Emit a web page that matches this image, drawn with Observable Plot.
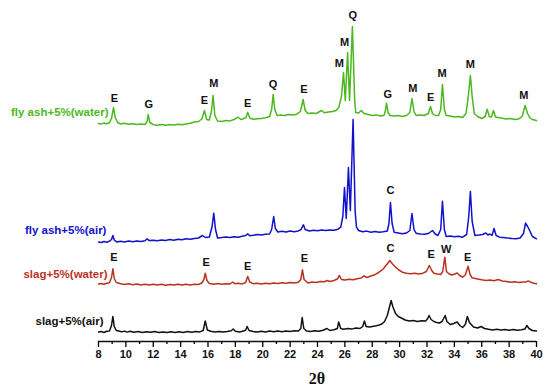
<!DOCTYPE html>
<html>
<head>
<meta charset="utf-8">
<script src="https://cdn.jsdelivr.net/npm/d3@7"></script>
<script src="https://cdn.jsdelivr.net/npm/@observablehq/plot@0.6"></script>
<style>
  html, body { margin: 0; padding: 0; background: #fff; }
  #chart { width: 550px; height: 391px; }
</style>
</head>
<body>
<div id="chart"></div>
<script>
// 2θ (degrees) vs stacked intensity (a.u., offsets included)
const slagAir = [[8.0,9.5],[8.2,10],[8.4,9],[8.6,10.2],[8.8,10.5],[8.95,16],[9.05,25],[9.15,15],[9.3,11],[9.5,10.5],[9.7,9.6],[9.9,10.4],[10.1,9.4],[10.3,10.2],[10.6,9.3],[10.9,9.9],[11.2,9.1],[11.5,9.8],[11.8,9.2],[12.1,9.9],[12.4,9],[12.7,9.6],[13.0,8.9],[13.3,9.7],[13.6,9],[13.9,9.8],[14.2,9.1],[14.5,9.9],[14.8,9.2],[15.1,10],[15.4,9.6],[15.65,11],[15.8,20.5],[15.95,11.5],[16.2,10.2],[16.5,9.5],[16.8,10.1],[17.1,9.4],[17.4,10],[17.7,10.8],[17.84,12.5],[18.0,10.3],[18.3,9.6],[18.6,10.4],[18.75,11.5],[18.86,15],[19.0,11],[19.3,10],[19.6,9.4],[19.9,10.2],[20.2,9.6],[20.5,10.4],[20.8,9.7],[21.1,10.5],[21.4,9.8],[21.7,10.6],[22.0,10],[22.3,10.8],[22.6,10.5],[22.78,13],[22.88,24],[23.0,13],[23.2,10.5],[23.5,10],[23.8,10.8],[24.1,10.2],[24.4,11.2],[24.7,13],[24.9,11],[25.2,11.8],[25.45,13],[25.55,19.5],[25.7,13],[25.9,12.3],[26.2,13],[26.5,12.4],[26.8,13.5],[27.1,13],[27.3,15],[27.43,20.5],[27.55,15],[27.8,14.5],[28.0,15],[28.3,15.8],[28.5,16.5],[28.7,17.5],[28.9,20],[29.1,26],[29.25,34],[29.38,41],[29.5,35],[29.7,28],[29.9,25],[30.2,23],[30.4,21.5],[30.7,20.5],[31.0,21],[31.3,20],[31.6,20.8],[31.9,20.4],[32.05,23],[32.15,26],[32.3,22],[32.5,20],[32.7,19],[32.9,18.5],[33.1,20],[33.25,24],[33.33,26],[33.45,20],[33.7,17],[33.95,18],[34.2,19.5],[34.4,16],[34.6,14],[34.8,17],[34.95,25],[35.1,19],[35.4,14.5],[35.7,13.5],[35.95,15],[36.2,13],[36.5,12.2],[36.8,11.5],[37.1,12.2],[37.4,11.4],[37.7,12],[38.0,11.3],[38.3,11.9],[38.6,11.2],[38.9,11.8],[39.15,12.5],[39.3,16],[39.45,13],[39.7,11],[40.0,10.5]];

const slagWater = [[8.0,57.5],[8.2,58],[8.4,57.2],[8.6,58.3],[8.8,58.8],[8.95,64],[9.05,72.7],[9.15,63],[9.3,59],[9.5,58.3],[9.7,57.4],[9.9,57],[10.2,57.8],[10.5,56.8],[10.8,57.5],[11.1,56.6],[11.4,57.3],[11.7,56.4],[12.0,57.2],[12.3,56.5],[12.6,57.3],[12.9,56.3],[13.2,57],[13.5,56.4],[13.8,57.2],[14.1,56.5],[14.4,57.2],[14.7,56.6],[15.0,57.3],[15.3,57],[15.55,58.5],[15.7,62],[15.8,68.3],[15.92,61],[16.1,58],[16.4,57.3],[16.7,58],[17.0,57.2],[17.3,57.8],[17.6,57.5],[17.8,59.5],[17.95,57.8],[18.2,58.2],[18.5,57.6],[18.75,59],[18.9,65],[19.05,59.5],[19.3,57.8],[19.6,58.2],[19.9,57.5],[20.2,58.3],[20.5,57.7],[20.8,58.5],[21.1,57.9],[21.4,58.8],[21.7,58.2],[22.0,58.9],[22.3,58.4],[22.6,59.2],[22.78,62],[22.9,71.7],[23.02,62],[23.3,58.5],[23.6,59.5],[23.9,59],[24.2,60],[24.5,59.8],[24.7,61],[24.9,60],[25.2,61],[25.45,62.5],[25.6,66],[25.75,62],[26.0,61.5],[26.3,62.3],[26.6,61.8],[26.9,62.8],[27.2,63.5],[27.4,65.7],[27.6,64],[27.8,65],[28.0,66],[28.2,66.8],[28.4,68.5],[28.6,70.3],[28.8,72.5],[29.0,76],[29.15,78.5],[29.28,81],[29.45,78],[29.7,74.3],[29.95,71.5],[30.2,69.3],[30.5,68.3],[30.8,67.7],[31.1,68.2],[31.4,67.5],[31.7,68.3],[31.95,70],[32.17,76],[32.35,71],[32.5,68.3],[32.75,67.5],[33.0,67],[33.15,70],[33.3,84.3],[33.42,70],[33.6,67.7],[33.8,66.5],[34.0,67.2],[34.2,68.5],[34.4,66],[34.6,64.3],[34.8,66.5],[35.0,75.3],[35.15,67],[35.3,63.7],[35.6,62.8],[36.0,61.7],[36.3,61],[36.6,61.6],[36.9,60.8],[37.2,62],[37.5,60.5],[37.8,60],[38.1,59.3],[38.4,59.8],[38.7,59],[39.0,59.6],[39.2,59.4],[39.4,60.6],[39.6,59.2],[39.8,58.3],[40.0,57.7]];

const flyAshAir = [[8.0,99.5],[8.2,99],[8.4,100],[8.6,99.3],[8.8,100.2],[8.95,102],[9.05,106],[9.15,101.5],[9.35,99.4],[9.6,100.2],[9.9,99.6],[10.2,100.4],[10.5,99.8],[10.8,100.6],[11.1,100],[11.4,100.8],[11.55,102.7],[11.7,100.9],[12.0,101.2],[12.3,100.7],[12.6,101.6],[12.9,101],[13.2,102],[13.5,101.3],[13.8,102.3],[14.1,101.7],[14.4,102.7],[14.7,102.2],[15.0,103],[15.3,103.5],[15.6,106],[15.8,104],[16.1,104.5],[16.3,115],[16.42,128.3],[16.55,112],[16.7,103.5],[17.0,104],[17.3,104.6],[17.6,104.1],[17.9,104.8],[18.2,104.3],[18.5,105.2],[18.75,106],[18.9,107.7],[19.05,105.8],[19.3,106.2],[19.6,107],[19.9,106.5],[20.2,107.3],[20.5,107.5],[20.65,112],[20.8,125],[20.92,113],[21.1,109.5],[21.4,110.2],[21.7,109.6],[22.0,110.4],[22.3,109.8],[22.6,110.6],[22.8,112],[22.97,116.7],[23.1,112],[23.4,110.5],[23.7,111.2],[24.0,110.7],[24.3,111.5],[24.6,110.9],[24.9,111.6],[25.2,111.2],[25.5,112.3],[25.7,114.3],[25.85,125],[25.97,154],[26.1,123],[26.26,174],[26.4,131],[26.6,222],[26.75,130],[26.85,114.3],[27.0,111],[27.3,109.8],[27.6,110.4],[27.9,109.3],[28.2,110],[28.5,109.2],[28.8,109.8],[29.1,110.5],[29.22,118],[29.33,139],[29.45,118],[29.6,109.3],[29.9,108.6],[30.2,107.7],[30.5,108.5],[30.75,111],[30.9,128],[31.05,112],[31.2,108.3],[31.5,107.6],[31.8,107.2],[32.1,108],[32.4,111],[32.6,107.5],[32.8,106],[33.0,112],[33.13,140.3],[33.27,112],[33.4,105],[33.7,105.5],[34.0,104.8],[34.3,105.3],[34.6,104.3],[34.9,107],[35.05,125],[35.17,150],[35.3,120],[35.5,106],[35.8,106.5],[36.05,107],[36.3,108.5],[36.45,106.5],[36.6,107.5],[36.75,106],[36.9,113],[37.05,106],[37.3,104.3],[37.6,104],[37.9,103.4],[38.2,103],[38.5,102.7],[38.8,103.5],[39.05,108],[39.2,118.4],[39.35,115],[39.5,111],[39.7,105],[40.0,102.7]];

const flyAshWater = [[8.0,218],[8.2,217.6],[8.4,218.4],[8.6,217.8],[8.8,218.8],[8.95,223],[9.1,234],[9.22,224],[9.4,219],[9.6,217.6],[9.9,218.2],[10.2,217.2],[10.5,217.8],[10.8,216.9],[11.1,217.5],[11.4,217],[11.55,220],[11.63,227],[11.75,219],[12.0,216.8],[12.3,216.2],[12.6,216.9],[12.9,216.3],[13.2,217],[13.5,216.4],[13.8,217.2],[14.1,216.8],[14.4,217.6],[14.7,218.3],[15.0,219.5],[15.3,220],[15.55,222.5],[15.74,231],[15.9,222],[16.1,221.5],[16.25,230],[16.37,246],[16.5,226],[16.7,220.5],[17.0,220],[17.3,221],[17.6,220.6],[17.9,222],[18.2,224.3],[18.4,222],[18.6,222.8],[18.78,224],[18.9,229.3],[19.05,223.5],[19.3,222.2],[19.6,222.8],[19.9,223],[20.2,223.8],[20.5,225],[20.65,232],[20.76,247],[20.88,232],[21.05,226],[21.3,226.5],[21.6,226],[21.9,227],[22.2,226.6],[22.5,227.3],[22.75,230],[22.95,242],[23.1,231],[23.3,228],[23.6,228.5],[23.9,228],[24.1,229.5],[24.3,231],[24.5,228.7],[24.8,229.4],[25.1,230],[25.35,231],[25.55,234],[25.75,245],[25.9,269],[26.03,241],[26.2,289],[26.34,241],[26.55,315],[26.72,240],[26.8,229],[27.0,228.5],[27.2,231],[27.4,228],[27.7,227],[28.0,226],[28.3,226.6],[28.6,225.5],[28.85,226],[28.95,230],[29.04,238.3],[29.15,229],[29.3,226],[29.6,225.5],[29.9,226],[30.2,225],[30.5,226],[30.75,229],[30.9,243],[31.05,230],[31.2,226],[31.5,226.6],[31.8,226],[32.1,228],[32.25,235],[32.4,228],[32.6,226],[32.85,226],[33.0,232],[33.13,257],[33.27,232],[33.4,226],[33.7,225.5],[34.0,224.6],[34.3,225],[34.6,224],[34.85,228],[35.0,243],[35.17,266],[35.3,245],[35.45,228],[35.7,225],[36.0,223],[36.25,225],[36.4,232.3],[36.55,225],[36.7,224.5],[36.86,231],[37.0,224.5],[37.2,224],[37.5,223.2],[37.8,222.6],[38.1,223],[38.4,222],[38.7,222.6],[38.95,225],[39.17,236],[39.35,228],[39.5,224],[39.7,222],[40.0,221]];

const seriesNames = ["slag+5%(air)", "slag+5%(water)", "fly ash+5%(air)", "fly ash+5%(water)"];
const seriesColors = ["#111111", "#b8331f", "#1111cc", "#4cb81e"];
const seriesData = [slagAir, slagWater, flyAshAir, flyAshWater];
const seriesLabelX = [8.37, 8.66, 8.58, 8.73];
const seriesLabelY = [20, 67, 111, 229];

// phase labels
const peakText = ["E","G","E","M","E","Q","E","M","M","Q","G","M","E","M","M","M",
                  "C",
                  "E","E","E","E","C","E","W","E"];
const peakX = [9.17,11.68,15.74,16.42,18.9,20.76,23.0,25.6,25.97,26.57,29.13,30.96,32.27,33.1,35.17,39.07,
               29.33,
               9.12,15.87,18.9,23.05,29.33,32.3,33.4,34.98];
const peakY = [242.7,236.7,241,258.3,237.7,256.7,252,277.7,299.3,326,247,253.3,244.3,268.3,276.7,246,
               151,
               83.7,78.7,75.3,82.7,92.7,87,92,84.3];

const majorTicks = d3.range(8, 41, 2);
const minorTicks = d3.range(9, 40, 2);
const xTitle = "2θ";

const lines = seriesData.flatMap((s, i) => s.map(([x, y]) => ({x, y, k: seriesNames[i]})));
const seriesLabels = seriesNames.map((name, i) => ({name, x: seriesLabelX[i], y: seriesLabelY[i], c: seriesColors[i]}));
const peaks = peakText.map((t, i) => ({t, x: peakX[i], y: peakY[i]}));

const chart = Plot.plot({
  width: 550,
  height: 391,
  marginLeft: 98,
  marginRight: 14,
  marginTop: 0,
  marginBottom: 50,
  style: {fontFamily: "'Liberation Sans', Arial, sans-serif", background: "#fff", overflow: "visible"},
  x: {domain: [8, 40]},
  y: {domain: [0, 341], axis: null},
  color: {domain: seriesNames, range: seriesColors},
  marks: [
    Plot.line(lines, {x: "x", y: "y", z: "k", stroke: "k", strokeWidth: 1.5, strokeLinejoin: "round"}),
    Plot.text(seriesLabels, {x: "x", y: "y", text: "name", fill: "c", textAnchor: "end", fontSize: 11.5, fontWeight: "bold"}),
    Plot.text(peaks, {x: "x", y: "y", text: "t", fill: "#111", fontSize: 11, fontWeight: "bold"}),
    Plot.ruleY([0], {stroke: "#111", strokeWidth: 1.5}),
    Plot.axisX({ticks: majorTicks, tickSize: 6, tickPadding: 3, strokeWidth: 1.3, fontSize: 11, fontWeight: "bold", fill: "#111", label: null}),
    Plot.axisX({ticks: minorTicks, tickSize: 3, strokeWidth: 1.3, tickFormat: () => "", label: null}),
    Plot.text([xTitle], {x: () => 23.96, y: () => -37, text: d => d, fontFamily: "'Liberation Serif', 'Times New Roman', serif", fontWeight: "bold", fontSize: 16, fill: "#111"})
  ]
});
document.getElementById("chart").appendChild(chart);
</script>
</body>
</html>
